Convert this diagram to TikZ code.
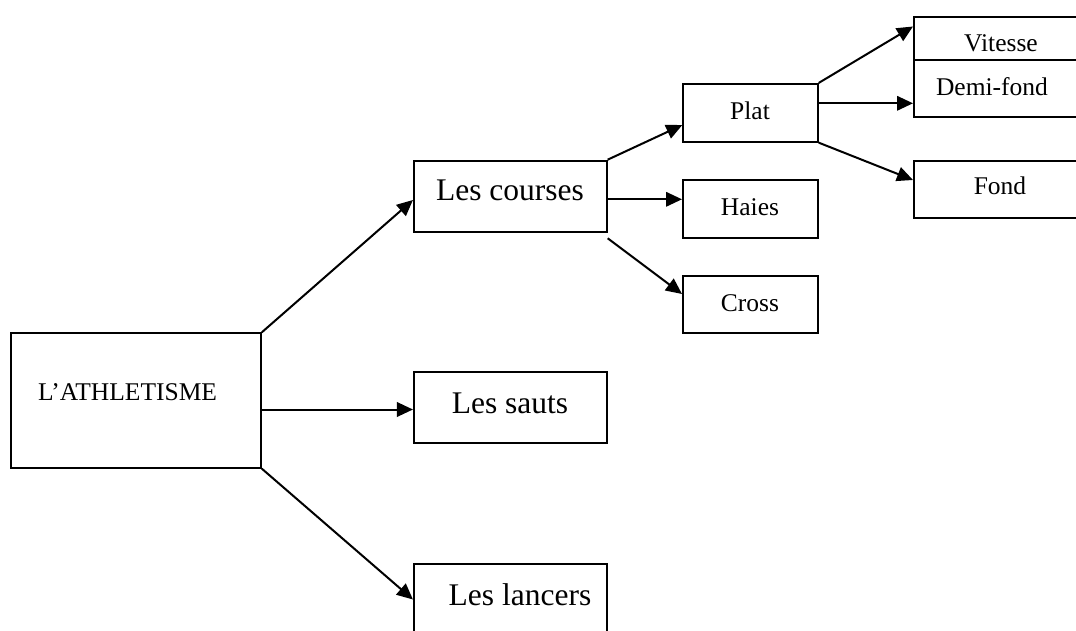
\documentclass[tikz,border=0pt]{standalone}
\usepackage{fontspec}
\setmainfont{Liberation Serif}
\usetikzlibrary{arrows.meta}
\tikzset{
  box/.style={draw, line width=2pt, inner sep=0pt, rectangle},
  bigtxt/.style={anchor=base, inner sep=0pt, font=\fontsize{31.5}{36}\selectfont},
  smalltxt/.style={anchor=base, inner sep=0pt, font=\fontsize{25.5}{30}\selectfont},
  link/.style={line width=2pt, -{Triangle[length=16pt,width=14.5pt]}}
}
\begin{document}
\begin{tikzpicture}[x=1pt, y=-1pt]
  \clip (0,0) rectangle (1076,631);
  \fill[white] (0,0) rectangle (1076,631);

  % boxes
  \node[box, minimum width=249.7pt, minimum height=134.4pt] (ath) at (136,400.5) {};
  \node[box, minimum width=192.7pt, minimum height=71.6pt] (courses) at (510.3,196.5) {};
  \node[box, minimum width=192.7pt, minimum height=71pt] (sauts) at (510.3,407.8) {};
  \node[box, minimum width=192.7pt, minimum height=71pt] (lancers) at (510.3,599.5) {};
  \node[box, minimum width=134.4pt, minimum height=57.7pt] (plat) at (750.5,112.8) {};
  \node[box, minimum width=135pt, minimum height=57.7pt] (haies) at (750.5,208.8) {};
  \node[box, minimum width=135pt, minimum height=57.3pt] (cross) at (750.5,304.7) {};
  \node[box, minimum width=176pt, minimum height=43.3pt] (vitesse) at (1002,38.3) {};
  \node[box, minimum width=176pt, minimum height=56.7pt] (demi) at (1002,88.3) {};
  \node[box, minimum width=176pt, minimum height=57.3pt] (fond) at (1002,189.7) {};

  % labels
  \node[smalltxt] (ath-t) at (127.5,400) {L’ATHLETISME};
  \node[bigtxt] (courses-t) at (510,201) {Les courses};
  \node[bigtxt] (sauts-t) at (510,413.3) {Les sauts};
  \node[bigtxt] (lancers-t) at (520,605) {Les lancers};
  \node[smalltxt] (plat-t) at (750,119.3) {Plat};
  \node[smalltxt] (haies-t) at (750,216) {Haies};
  \node[smalltxt] (cross-t) at (750,311.7) {Cross};
  \node[smalltxt] (vitesse-t) at (1001,51.7) {Vitesse};
  \node[smalltxt] (demi-t) at (992,96) {Demi-fond};
  \node[smalltxt] (fond-t) at (1000,195) {Fond};

  % branch points on the right edges
  \coordinate (athmid) at (260.7,409.5);
  \coordinate (cmid) at (606.7,199.3);
  \coordinate (pmid) at (817.7,103.3);

  % connectors
  \draw[link] (ath.north east) -- ([yshift=-3.5pt]courses.west);
  \draw[link] (athmid) -- (athmid -| sauts.west);
  \draw[link] (ath.south east) -- (lancers.west);

  \draw[link] (courses.north east) -- ([yshift=-12.2pt]plat.west);
  \draw[link] (cmid) -- (cmid -| haies.west);
  \draw[link] ([yshift=-5pt]courses.south east) -- ([yshift=10.7pt]cross.west);

  \draw[link] (plat.north east) -- ([yshift=11.8pt]vitesse.west);
  \draw[link] (pmid) -- (pmid -| demi.west);
  \draw[link] (plat.south east) -- ([yshift=9.7pt]fond.west);
\end{tikzpicture}
\end{document}
